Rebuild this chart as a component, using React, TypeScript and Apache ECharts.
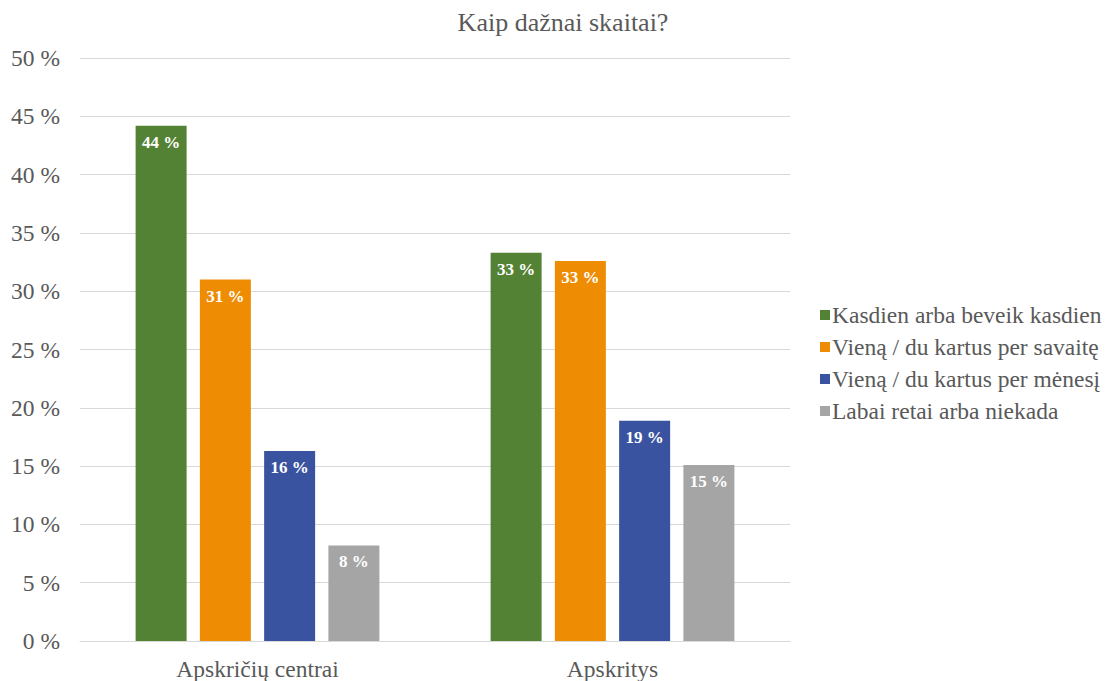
import React, { useEffect, useRef } from "react";
import * as echarts from "echarts";

const categories = ["Apskričių centrai", "Apskritys"];
const seriesNames = [
  "Kasdien arba beveik kasdien",
  "Vieną / du kartus per savaitę",
  "Vieną / du kartus per mėnesį",
  "Labai retai arba niekada",
];
const dailyValues = [44.2, 33.3];
const weeklyValues = [31.0, 32.6];
const monthlyValues = [16.3, 18.9];
const rarelyValues = [8.2, 15.1];
const colors = ["#548235", "#EE8C04", "#3A53A1", "#A5A5A5"];

const FONT = "Liberation Serif";
const TEXT = "#595959";

export default function App() {
  const ref = useRef<HTMLDivElement>(null);
  useEffect(() => {
    const chart = echarts.init(ref.current!, null, { renderer: "svg" });
    const allValues = [dailyValues, weeklyValues, monthlyValues, rarelyValues];
    chart.setOption({
      animation: false,
      textStyle: { fontFamily: FONT },
      title: {
        text: "Kaip dažnai skaitai?",
        left: 558,
        textAlign: "center",
        top: 4,
        textStyle: { fontFamily: FONT, fontSize: 26, fontWeight: "normal", color: TEXT },
      },
      legend: {
        orient: "vertical",
        left: 815,
        top: 298,
        itemWidth: 10,
        itemHeight: 10,
        itemGap: 8,
        icon: "rect",
        textStyle: { fontFamily: FONT, fontSize: 23.5, color: TEXT, padding: [0, 0, 0, -3] },
        data: seriesNames,
      },
      grid: { left: 80, right: 317, top: 58, bottom: 39, containLabel: false },
      xAxis: {
        type: "category",
        data: categories,
        axisLine: { lineStyle: { color: "#D9D9D9", width: 1 } },
        axisTick: { show: false },
        axisLabel: { fontFamily: FONT, fontSize: 23.5, color: TEXT, margin: 16 },
      },
      yAxis: {
        type: "value",
        min: 0,
        max: 50,
        interval: 5,
        axisLine: { show: false },
        axisTick: { show: false },
        splitLine: { lineStyle: { color: "#D9D9D9", width: 1 } },
        axisLabel: {
          fontFamily: FONT,
          fontSize: 23.5,
          color: TEXT,
          margin: 20,
          formatter: (v: number) => `${v} %`,
        },
      },
      series: seriesNames.map((name, i) => ({
        name,
        type: "bar",
        data: allValues[i],
        barWidth: 51,
        barGap: "26%",
        itemStyle: { color: colors[i] },
        label: {
          show: true,
          position: "insideTop",
          distance: 8,
          color: "#FFFFFF",
          fontFamily: FONT,
          fontSize: 17,
          fontWeight: "bold",
          formatter: (p: any) => `${Math.round(p.value)} %`,
        },
      })),
    });
    return () => chart.dispose();
  }, []);
  return (
    <div
      ref={ref}
      style={{ position: "absolute", left: 0, top: 0, width: 1107, height: 681, background: "#fff" }}
    />
  );
}
